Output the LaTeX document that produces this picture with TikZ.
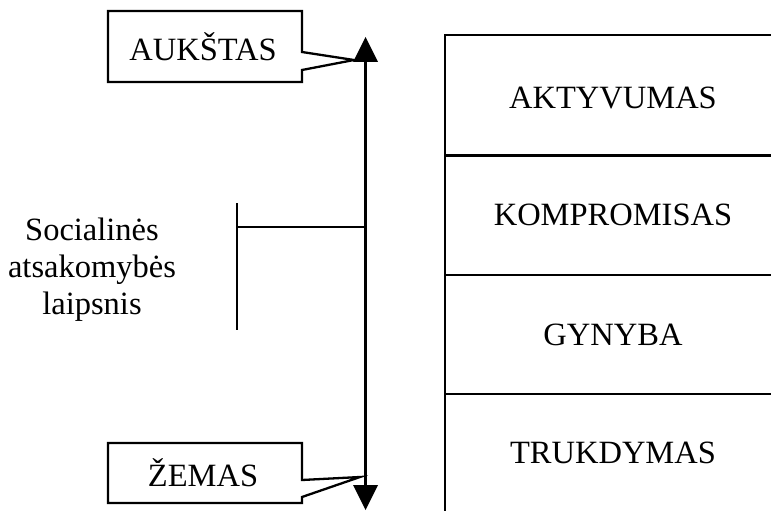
\documentclass[tikz,border=0pt]{standalone}
\usepackage{fontspec}
\setmainfont{Liberation Serif}
\begin{document}
\begin{tikzpicture}[x=1pt,y=-1pt,line join=miter,
  ln/.style={line width=2.3pt,draw=black},
  lbl/.style={font=\fontsize{32.5}{37}\selectfont,inner sep=0pt,align=center}]
\useasboundingbox (0,0) rectangle (771,511);
% axis
\coordinate (atop) at (365.5,62);
\coordinate (abot) at (365.5,485);
\draw[ln] (atop) -- (abot);
\fill (353,62) -- (378,62) -- (365.5,37) -- cycle;
\fill (353,485) -- (378,485) -- (365.5,510) -- cycle;
% callouts
\draw[ln,fill=white] (108,11) -- (302,11) -- (302,52) -- (354,60) -- (302,70) -- (302,82) -- (108,82) -- cycle;
\node[lbl] (hi) at (203,47) {AUKŠTAS};
\draw[ln,fill=white] (108,443) -- (302,443) -- (302,480) -- (360,477) -- (302,497) -- (302,503) -- (108,503) -- cycle;
\node[lbl] (lo) at (203,473) {ŽEMAS};
% bracket
\coordinate (bt) at (237,203);
\coordinate (bb) at (237,330);
\coordinate (bm) at (237,227);
\coordinate (am) at (365.5,227);
\draw[ln] (bt) -- (bb);
\draw[ln] (bm) -- (am);
\node[lbl] (soc) at (92,270) {Socialinės\\atsakomybės\\laipsnis};
% table
\draw[ln] (771,35) -- (445,35) -- (445,511);
\draw[ln] (445,155.5) -- (771,155.5);
\draw[ln] (445,275) -- (771,275);
\draw[ln] (445,394) -- (771,394);
\node[lbl] (t1) at (613,98) {AKTYVUMAS};
\node[lbl] (t2) at (613,215) {KOMPROMISAS};
\node[lbl] (t3) at (613,335) {GYNYBA};
\node[lbl] (t4) at (613,453) {TRUKDYMAS};
\end{tikzpicture}
\end{document}
